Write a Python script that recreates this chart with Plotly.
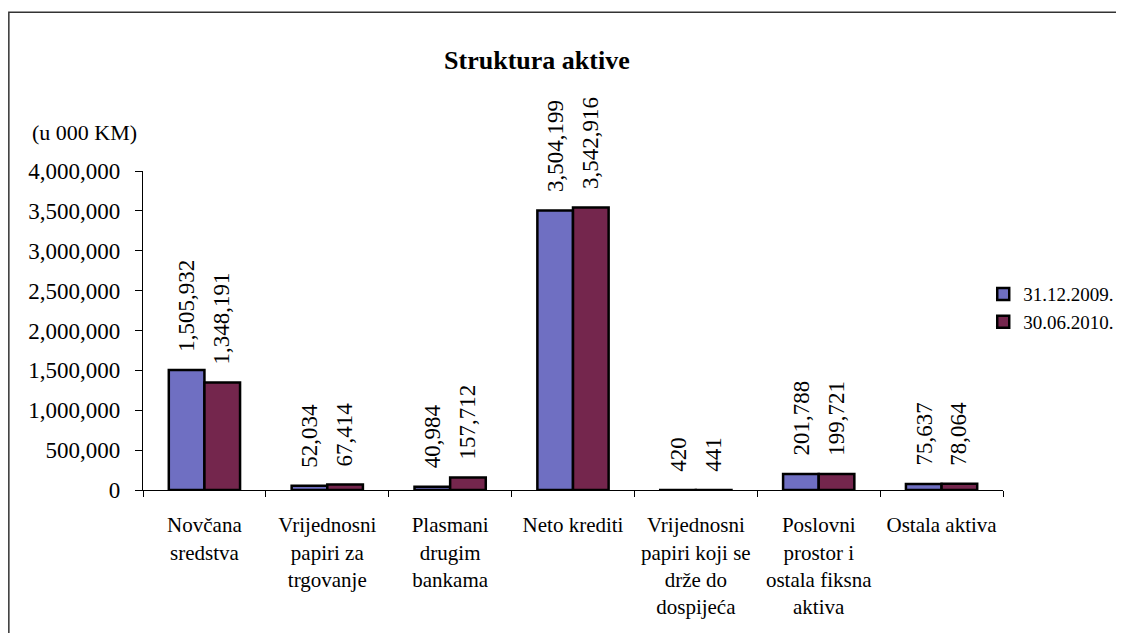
import plotly.graph_objects as go

categories = [
    "Novčana<br>sredstva",
    "Vrijednosni<br>papiri za<br>trgovanje",
    "Plasmani<br>drugim<br>bankama",
    "Neto krediti",
    "Vrijednosni<br>papiri koji se<br>drže do<br>dospijeća",
    "Poslovni<br>prostor i<br>ostala fiksna<br>aktiva",
    "Ostala aktiva",
]
dec_2009 = [1505932, 52034, 40984, 3504199, 420, 201788, 75637]
jun_2010 = [1348191, 67414, 157712, 3542916, 441, 199721, 78064]
series_names = ["31.12.2009.", "30.06.2010."]
y_ticks = [0, 500000, 1000000, 1500000, 2000000, 2500000, 3000000, 3500000, 4000000]

FONT = "Liberation Serif, Times New Roman, serif"
colors = ["#6f6fc2", "#74264d"]

fig = go.Figure()
for name, vals, col in zip(series_names, [dec_2009, jun_2010], colors):
    fig.add_trace(go.Bar(
        x=categories, y=vals, name=name,
        marker=dict(color=col, line=dict(color="black", width=2.5)),
    ))

# rotated value labels above each bar
annotations = []
for vals, shift in zip([dec_2009, jun_2010], [-17.5, 17.5]):
    for cat, v in zip(categories, vals):
        annotations.append(dict(
            x=cat, y=v, xref="x", yref="y", text=f"{v:,}",
            textangle=-90, showarrow=False, xanchor="center", yanchor="bottom",
            xshift=shift, yshift=16, font=dict(family=FONT, size=23, color="black"),
        ))

annotations.append(dict(
    x=-0.0686, y=1.122, xref="paper", yref="paper", text="(u 000 KM)",
    showarrow=False, xanchor="center", yanchor="middle",
    font=dict(family=FONT, size=22, color="black"),
))

fig.update_layout(
    width=1124, height=633,
    margin=dict(l=135, r=129, t=163, b=151, autoexpand=False),
    paper_bgcolor="white", plot_bgcolor="white",
    barmode="group", bargap=0.42, bargroupgap=0,
    font=dict(family=FONT, color="black"),
    title=dict(text="<b>Struktura aktive</b>", x=0.458, xref="paper", xanchor="center",
               y=0.918, yref="container", yanchor="middle",
               font=dict(family=FONT, size=26, color="black")),
    legend=dict(x=0.977, xanchor="left", y=0.57, yanchor="middle",
                font=dict(family=FONT, size=19), bgcolor="rgba(0,0,0,0)",
                itemwidth=30, tracegroupgap=0),
    annotations=annotations,
    shapes=[dict(type="rect", xref="paper", yref="paper",
                 x0=-0.156, x1=1.3, y0=-0.6, y1=1.498,
                 line=dict(color="#333333", width=1.5))],
    showlegend=True,
)
fig.update_xaxes(
    showline=True, linecolor="black", linewidth=1.2,
    ticks="outside", tickson="boundaries", ticklen=6, tickcolor="black",
    tickangle=0, automargin=False, ticklabelstandoff=16,
    tickfont=dict(family=FONT, size=21), showgrid=False,
)
fig.update_yaxes(
    range=[0, 4000000], tickvals=y_ticks, tickformat=",d",
    showline=True, linecolor="black", linewidth=1.2, automargin=False,
    ticks="outside", ticklen=7, tickcolor="black", ticklabelstandoff=10,
    tickfont=dict(family=FONT, size=23), showgrid=False, zeroline=False,
)

fig.write_html("out.html")
